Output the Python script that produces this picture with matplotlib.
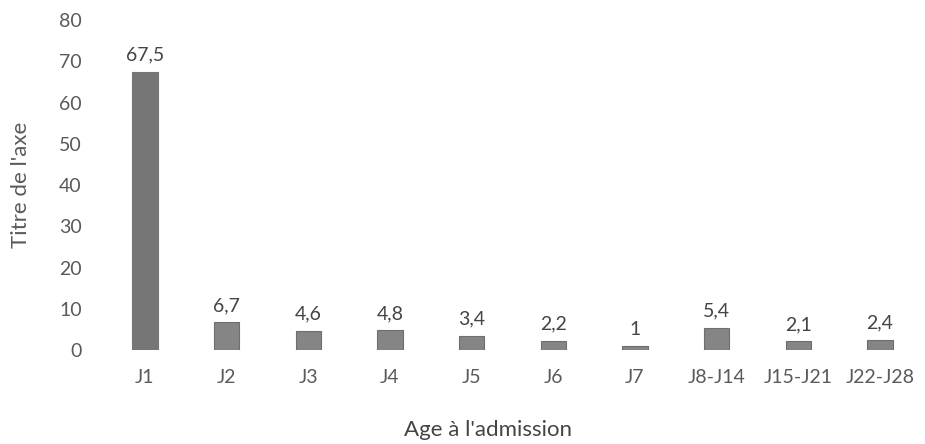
import matplotlib
matplotlib.use('Agg')
import matplotlib.pyplot as plt

# données
categories = ['J1', 'J2', 'J3', 'J4', 'J5', 'J6', 'J7', 'J8-J14', 'J15-J21', 'J22-J28']
values = [67.5, 6.7, 4.6, 4.8, 3.4, 2.2, 1, 5.4, 2.1, 2.4]
value_labels = ['67,5', '6,7', '4,6', '4,8', '3,4', '2,2', '1', '5,4', '2,1', '2,4']
yticks = [0, 10, 20, 30, 40, 50, 60, 70, 80]

TEXT = '#5a5a5a'
plt.rcParams['font.family'] = ['Lato', 'DejaVu Sans']

fig = plt.figure(figsize=(9.25, 4.44), dpi=100)
ax = fig.add_axes([0.1125, 0.2117, 0.883, 0.743])

x = range(len(categories))
bars = ax.bar(x, values, width=0.31, color='#858585', edgecolor='#6e6e6e', linewidth=0.8)
bars[0].set_color('#767676')

for i, (v, lab) in enumerate(zip(values, value_labels)):
    ax.text(i, v + 2.0, lab, ha='center', va='bottom', fontsize=14, color='#444444')

ax.set_xlim(-0.5, len(categories) - 0.5)
ax.set_ylim(0, 80)
ax.set_yticks(yticks)
ax.set_xticks(list(x))
ax.set_xticklabels(categories)
ax.tick_params(axis='both', length=0, labelsize=14, colors=TEXT)
ax.tick_params(axis='x', pad=14)
ax.tick_params(axis='y', pad=16)
for s in ax.spines.values():
    s.set_visible(False)

ax.set_xlabel("Age à l'admission", fontsize=16, color='#444444', labelpad=24)
ax.xaxis.label.set_x(0.47)
ax.set_ylabel("Titre de l'axe", fontsize=16, color=TEXT, labelpad=20)

fig.savefig('out.png', dpi=100)
